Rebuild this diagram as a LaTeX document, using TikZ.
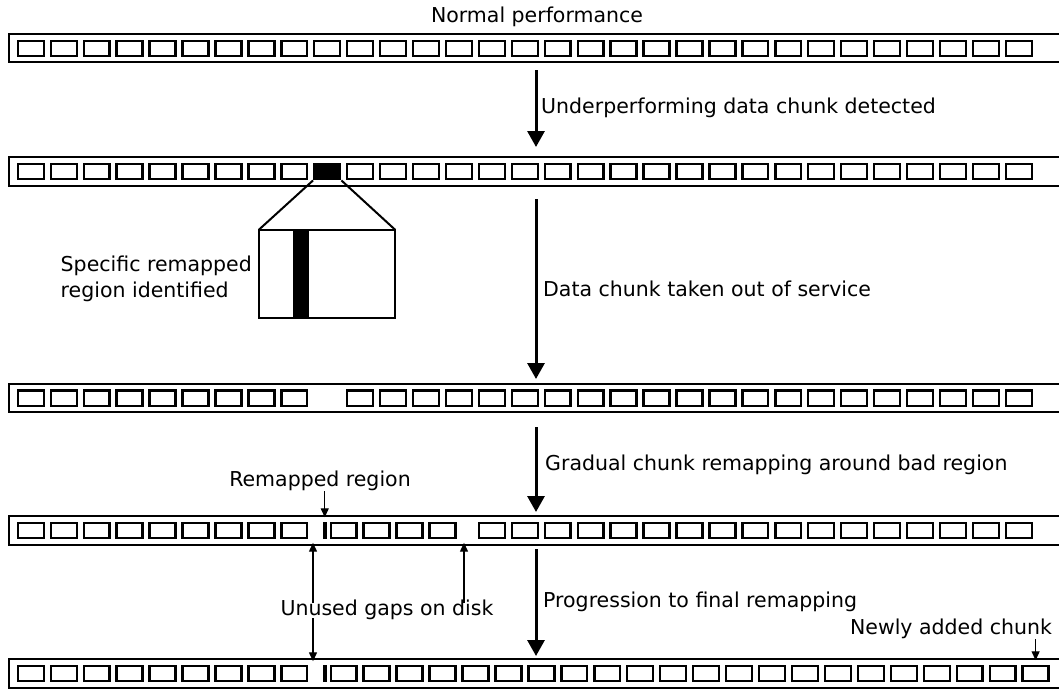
\documentclass[tikz,border=0pt]{standalone}
\usepackage{fontspec}
\setmainfont{DejaVu Sans}
\usetikzlibrary{arrows.meta}

\tikzset{
  chunk/.style={draw, line width=2.4pt, rectangle, inner sep=0pt,
                minimum width=25.9pt, minimum height=15.4pt},
  badchunk/.style={chunk, fill=black},
  remapbar/.style={fill=black, rectangle, inner sep=0pt,
                   minimum width=3.8pt, minimum height=17.8pt},
  band/.style={rectangle, inner sep=0pt, minimum width=1052pt, minimum height=28pt},
  bandline/.style={line width=2.2pt},
  bigarrow/.style={line width=3pt, -{Triangle[length=16pt,width=17pt]}},
  smallarrow/.style={line width=1.3pt, -{Triangle[length=9pt,width=8pt]}},
  lbl/.style={inner sep=0pt, font=\fontsize{20.5}{26}\selectfont},
}

\newcommand{\diskband}[1]{%
  \draw[bandline] (#1.north east) -- (#1.north west) -- (#1.south west) -- (#1.south east);}

\begin{document}
\begin{tikzpicture}[x=1pt,y=-1pt]
\useasboundingbox (0,0) rectangle (1059,691);

% ---- disk bands ----
\node[band] (row1) at (535,48) {};
\node[band] (row2) at (535,171.5) {};
\node[band] (row3) at (535,398) {};
\node[band] (row4) at (535,530.5) {};
\node[band] (row5) at (535,673.5) {};
\foreach \r in {row1,row2,row3,row4,row5} {\diskband{\r}}

% ---- row 1: normal layout ----
\foreach \k in {0,...,30}
  \node[chunk] (r1c\k) at ({30.85+32.93*\k},48.5) {};

% ---- row 2: one chunk marked ----
\foreach \k in {0,...,8,10,11,...,30}
  \node[chunk] (r2c\k) at ({30.85+32.93*\k},171.5) {};
\node[badchunk] (r2c9) at ({30.85+32.93*9},171.5) {};

% ---- row 3: chunk removed ----
\foreach \k in {0,...,8,10,11,...,30}
  \node[chunk] (r3c\k) at ({30.85+32.93*\k},398) {};

% ---- row 4: partial remapping ----
\foreach \k in {0,...,8,14,15,...,30}
  \node[chunk] (r4c\k) at ({30.85+32.93*\k},530.5) {};
\node[remapbar] (b4) at (324.75,530.5) {};
\foreach \k in {0,...,3}
  \node[chunk] (r4d\k) at ({343.65+32.95*\k},530.5) {};

% ---- row 5: final remapping ----
\foreach \k in {0,...,8}
  \node[chunk] (r5c\k) at ({30.85+32.93*\k},673.5) {};
\node[remapbar] (b5) at (324.75,673.5) {};
\foreach \k in {0,...,21}
  \node[chunk] (r5d\k) at ({343.65+32.95*\k},673.5) {};

% ---- zoomed view of the bad chunk ----
\node[rectangle, inner sep=0pt, minimum width=136pt, minimum height=88pt] (zb) at (327,274) {};
\node[fill=black, rectangle, inner sep=0pt, minimum width=16pt, minimum height=88pt] (zbar) at (301,274) {};
\draw[line width=2pt] (zb.north west) rectangle (zb.south east);
\draw[line width=2pt] (r2c9.south west) -- (zb.north west);
\draw[line width=2pt] (r2c9.south east) -- (zb.north east);
\node[lbl, anchor=east, align=left] (spec) at (252,279) {Specific remapped\\region identified};

% ---- main process arrows ----
\coordinate (a1s) at (536,70);  \coordinate (a1e) at (536,147);
\coordinate (a2s) at (536,199); \coordinate (a2e) at (536,379);
\coordinate (a3s) at (536,427); \coordinate (a3e) at (536,512);
\coordinate (a4s) at (536,549); \coordinate (a4e) at (536,656);
\draw[bigarrow] (a1s) -- (a1e);
\draw[bigarrow] (a2s) -- (a2e);
\draw[bigarrow] (a3s) -- (a3e);
\draw[bigarrow] (a4s) -- (a4e);

\node[lbl] (t0) at (537,17) {Normal performance};
\node[lbl, anchor=west] (t1) at (541,108) {Underperforming data chunk detected};
\node[lbl, anchor=west] (t2) at (543,289) {Data chunk taken out of service};
\node[lbl, anchor=west] (t3) at (545,465) {Gradual chunk remapping around bad region};
\node[lbl, anchor=west] (t4) at (543,602) {Progression to final remapping};

% ---- annotations ----
\node[lbl] (rr) at (320,481) {Remapped region};
\draw[smallarrow] (rr.south -| b4) -- ([yshift=-1pt]b4 |- row4.north);

\node[lbl] (na) at (951,629) {Newly added chunk};
\draw[smallarrow] (na.south -| r5d21) -- ([yshift=-1pt]r5d21 |- row5.north);

\node[lbl] (ug) at (387,610) {Unused gaps on disk};
\coordinate (g1) at (313,0);
\coordinate (g2) at (464,0);
\draw[smallarrow] ([yshift=-3pt]ug.north -| g1) -- ([yshift=2pt]g1 |- row4.south);
\draw[smallarrow] ([yshift=2pt]ug.south -| g1) -- ([yshift=-2pt]g1 |- row5.north);
\draw[smallarrow] ([yshift=-3pt]ug.north -| g2) -- ([yshift=2pt]g2 |- row4.south);
\end{tikzpicture}
\end{document}
